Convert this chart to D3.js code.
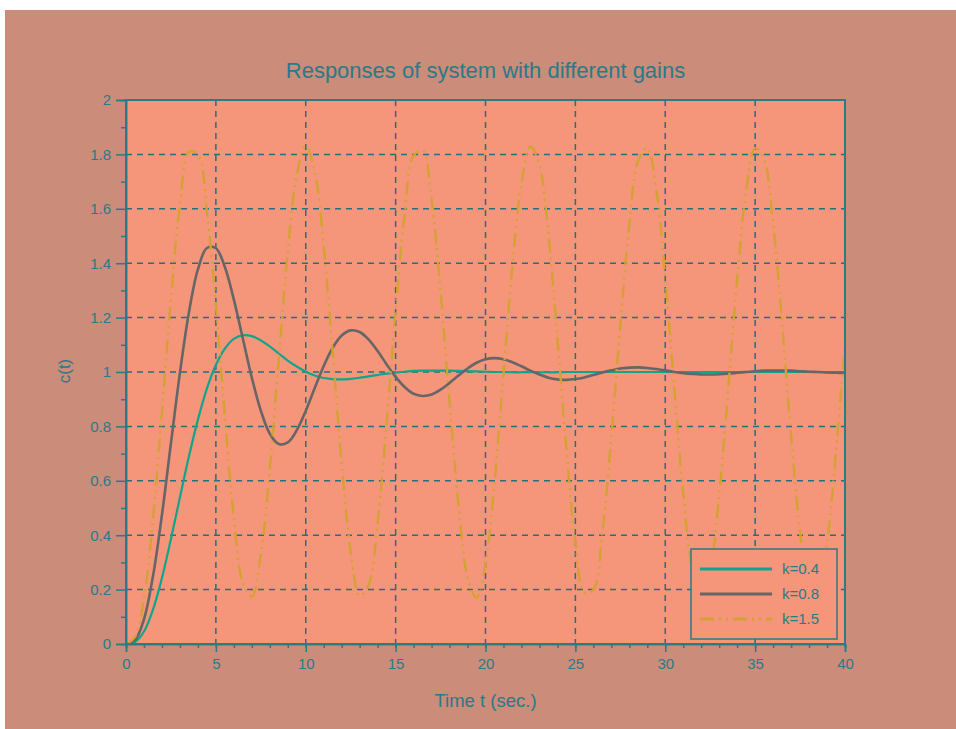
<!DOCTYPE html>
<html>
<head>
<meta charset="utf-8">
<script src="https://cdn.jsdelivr.net/npm/d3@7"></script>
<style>
  html, body { margin: 0; padding: 0; background: #ffffff; }
  svg { display: block; }
  text { font-family: "Liberation Sans", Arial, sans-serif; }
</style>
</head>
<body>
<svg id="chart" width="956" height="729"></svg>
<script>
// ---- data ----
const title = "Responses of system with different gains";
const xLabel = "Time t (sec.)";
const yLabel = "c(t)";
const xTicks = [0, 5, 10, 15, 20, 25, 30, 35, 40];
const yTicks = [0, 0.2, 0.4, 0.6, 0.8, 1, 1.2, 1.4, 1.6, 1.8, 2];
const yTickLabels = ["0", "0.2", "0.4", "0.6", "0.8", "1", "1.2", "1.4", "1.6", "1.8", "2"];
const seriesNames = ["k=0.4", "k=0.8", "k=1.5"];
// sample times (seconds), every 0.5 s from 0 to 40
const times = d3.range(0, 40.25, 0.5);

const k04 = [0, 0.007, 0.046, 0.126, 0.243, 0.386, 0.539, 0.689, 0.825, 0.939,
  1.026, 1.086, 1.122, 1.135, 1.132, 1.116, 1.094, 1.068, 1.042, 1.020,
  1.001, 0.987, 0.978, 0.974, 0.973, 0.975, 0.979, 0.984, 0.989, 0.994,
  0.998, 1.001, 1.004, 1.005, 1.005, 1.005, 1.005, 1.004, 1.003, 1.002,
  1.001, 1.000, 1.000, 0.999, 0.999, 0.999, 0.999, 0.999, 0.999, 1.000,
  1.000, 1.000, 1.000, 1.000, 1.000, 1.000, 1.000, 1.000, 1.000, 1.000,
  1.000, 1.000, 1.000, 1.000, 1.000, 1.000, 1.000, 1.000, 1.000, 1.000,
  1.000, 1.000, 1.000, 1.000, 1.000, 1.000, 1.000, 1.000, 1.000, 1.000,
  1.000];

const k08 = [0, 0.014, 0.091, 0.249, 0.475, 0.738, 0.997, 1.219, 1.377, 1.456,
  1.455, 1.386, 1.266, 1.123, 0.979, 0.858, 0.773, 0.735, 0.741, 0.786,
  0.857, 0.941, 1.022, 1.089, 1.134, 1.153, 1.147, 1.119, 1.077, 1.028,
  0.982, 0.945, 0.920, 0.912, 0.917, 0.935, 0.960, 0.987, 1.013, 1.034,
  1.047, 1.051, 1.047, 1.036, 1.021, 1.005, 0.991, 0.979, 0.973, 0.971,
  0.974, 0.980, 0.989, 0.998, 1.006, 1.013, 1.016, 1.017, 1.015, 1.011,
  1.006, 1.000, 0.996, 0.993, 0.991, 0.991, 0.992, 0.994, 0.997, 1.000,
  1.003, 1.005, 1.005, 1.005, 1.005, 1.003, 1.001, 1.000, 0.998, 0.997,
  0.997];

const k15 = [0, 0.026, 0.169, 0.458, 0.853, 1.271, 1.616, 1.809, 1.802, 1.589,
  1.246, 0.835, 0.464, 0.225, 0.174, 0.327, 0.644, 1.048, 1.441, 1.725,
  1.832, 1.737, 1.462, 1.070, 0.664, 0.341, 0.178, 0.217, 0.448, 0.814,
  1.226, 1.581, 1.796, 1.815, 1.632, 1.297, 0.890, 0.509, 0.246, 0.170,
  0.296, 0.594, 0.993, 1.393, 1.695, 1.829, 1.760, 1.505, 1.125, 0.715,
  0.375, 0.188, 0.200, 0.408, 0.761, 1.172, 1.541, 1.778, 1.824, 1.668,
  1.348, 0.944, 0.555, 0.273, 0.168, 0.268, 0.547, 0.938, 1.343, 1.665,
  1.823, 1.780, 1.545, 1.179, 0.767, 0.412, 0.202, 0.187, 0.371, 0.708,
  1.118];

const seriesValues = [k04, k08, k15];

// ---- styles ----
const figBg = "#cb8c7a";
const plotBg = "#f5967a";
const ink = "#2a7a88";
const gridColor = "#23707e";
const seriesColors = ["#0fa58b", "#666666", "#d4a232"];
const seriesWidths = [2.2, 2.6, 2.4];
const seriesDash = [null, null, "14,5,2,5,2,5"];

const svg = d3.select("#chart");
const W = 956, H = 729;
const m = { left: 126, right: 845, top: 100, bottom: 644 };

svg.append("rect").attr("x", 5).attr("y", 10).attr("width", W - 5).attr("height", H - 10)
  .attr("fill", figBg);

const x = d3.scaleLinear().domain([0, 40]).range([m.left, m.right]);
const y = d3.scaleLinear().domain([0, 2]).range([m.bottom, m.top]);

svg.append("rect").attr("x", m.left).attr("y", m.top)
  .attr("width", m.right - m.left).attr("height", m.bottom - m.top)
  .attr("fill", plotBg);

// grid
const g = svg.append("g");
g.selectAll("line.vg").data(xTicks.filter(d => d > 0 && d < 40)).join("line")
  .attr("x1", d => x(d)).attr("x2", d => x(d))
  .attr("y1", m.top).attr("y2", m.bottom)
  .attr("stroke", gridColor).attr("stroke-width", 1.5).attr("stroke-dasharray", "6,5");
g.selectAll("line.hg").data(yTicks.filter(d => d > 0 && d < 2)).join("line")
  .attr("y1", d => y(d)).attr("y2", d => y(d))
  .attr("x1", m.left).attr("x2", m.right)
  .attr("stroke", gridColor).attr("stroke-width", 1.5).attr("stroke-dasharray", "6,5");

// clip
svg.append("clipPath").attr("id", "clip").append("rect")
  .attr("x", m.left).attr("y", m.top).attr("width", m.right - m.left).attr("height", m.bottom - m.top);

const line = d3.line().x(d => x(d[0])).y(d => y(d[1])).curve(d3.curveCatmullRom.alpha(0.5));
const plotG = svg.append("g").attr("clip-path", "url(#clip)");
seriesValues.forEach((vals, i) => {
  plotG.append("path")
    .attr("d", line(times.map((t, j) => [t, vals[j]])))
    .attr("fill", "none")
    .attr("stroke", seriesColors[i])
    .attr("stroke-width", seriesWidths[i])
    .attr("stroke-dasharray", seriesDash[i])
    .attr("stroke-linejoin", "round");
});

// axes
const xAxis = d3.axisBottom(x).tickValues(xTicks).tickSize(8).tickPadding(6).tickFormat(d3.format("d"));
const xMinor = d3.axisBottom(x).tickValues(d3.range(0, 40.01, 1)).tickSize(4).tickFormat("");
const yAxis = d3.axisLeft(y).tickValues(yTicks).tickSize(10).tickPadding(5).tickFormat((d, i) => yTickLabels[i]);
const yMinor = d3.axisLeft(y).tickValues(d3.range(0.1, 2, 0.2)).tickSize(5).tickFormat("");

function styleAxis(sel) {
  sel.select(".domain").attr("stroke", ink).attr("stroke-width", 1.5);
  sel.selectAll(".tick line").attr("stroke", ink).attr("stroke-width", 1.5);
  sel.selectAll(".tick text").attr("fill", ink).style("font-size", "15px")
    .style("font-family", "'Liberation Sans', Arial, sans-serif");
}
svg.append("g").attr("transform", `translate(0,${m.bottom})`).call(xMinor).call(styleAxis);
svg.append("g").attr("transform", `translate(0,${m.bottom})`).call(xAxis).call(styleAxis);
svg.append("g").attr("transform", `translate(${m.left},0)`).call(yMinor).call(styleAxis);
svg.append("g").attr("transform", `translate(${m.left},0)`).call(yAxis).call(styleAxis);

// frame
svg.append("rect").attr("x", m.left).attr("y", m.top)
  .attr("width", m.right - m.left).attr("height", m.bottom - m.top)
  .attr("fill", "none").attr("stroke", ink).attr("stroke-width", 2);

// titles
svg.append("text").attr("x", (m.left + m.right) / 2).attr("y", 78)
  .attr("text-anchor", "middle").attr("fill", ink).style("font-size", "22px").text(title);
svg.append("text").attr("x", (m.left + m.right) / 2).attr("y", 707)
  .attr("text-anchor", "middle").attr("fill", ink).style("font-size", "18.5px").text(xLabel);
svg.append("text").attr("transform", "translate(70,371) rotate(-90)")
  .attr("text-anchor", "middle").attr("fill", ink).style("font-size", "17px").text(yLabel);

// legend
const lg = svg.append("g");
lg.append("rect").attr("x", 691).attr("y", 549).attr("width", 146).attr("height", 90)
  .attr("fill", plotBg).attr("stroke", ink).attr("stroke-width", 1.5);
seriesNames.forEach((name, i) => {
  const ly = 569 + i * 25;
  lg.append("line").attr("x1", 700).attr("x2", 772).attr("y1", ly).attr("y2", ly)
    .attr("stroke", seriesColors[i]).attr("stroke-width", seriesWidths[i] + 0.6)
    .attr("stroke-dasharray", seriesDash[i]);
  lg.append("text").attr("x", 782).attr("y", ly + 5).attr("fill", ink)
    .style("font-size", "15px").text(name);
});
</script>
</body>
</html>
